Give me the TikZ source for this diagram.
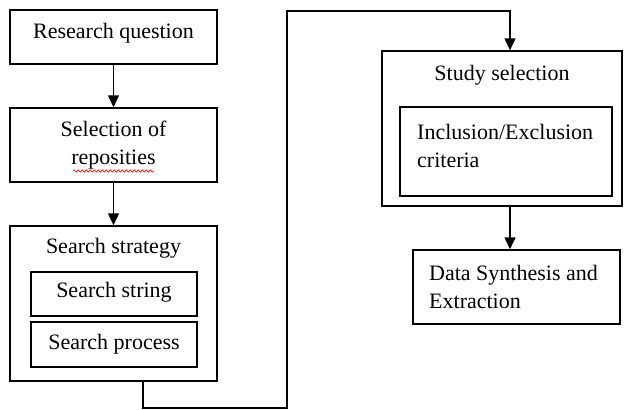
\documentclass[tikz,border=0pt]{standalone}
\usepackage{fontspec}
\setmainfont{Liberation Serif}
\usetikzlibrary{arrows.meta,decorations.pathmorphing}
\begin{document}
\begin{tikzpicture}[x=1pt,y=-1pt,
  box/.style={draw=black,line width=1.5pt,rectangle,inner sep=0pt},
  txt/.style={inner sep=0pt,font=\fontsize{22}{28}\selectfont},
  arr/.style={line width=1.5pt,-{Triangle[width=11pt,length=12pt]}},
  ln/.style={line width=1.5pt}]
\useasboundingbox (0,0) rectangle (625,410);
\fill[white] (0,0) rectangle (625,410);
% left column
\node[box,minimum width=207pt,minimum height=54pt] (rq) at (113.5,37) {};
\node[txt] (rqt) at (113.5,33) {Research question};
\node[box,minimum width=207pt,minimum height=74pt] (sel) at (113.5,145) {};
\node[txt,align=center] (selt) at (113.5,145) {Selection of\\reposities};
\node[box,minimum width=207pt,minimum height=155pt] (ss) at (113.5,303.5) {};
\node[txt] (sst) at (113.5,248) {Search strategy};
\node[box,minimum width=166pt,minimum height=44pt] (sstr) at (114,294) {};
\node[txt] (sstrt) at (114,292) {Search string};
\node[box,minimum width=166pt,minimum height=45pt] (sproc) at (114,344.5) {};
\node[txt] (sproct) at (114,344) {Search process};
% right column
\node[box,minimum width=240pt,minimum height=155pt] (study) at (502,128.5) {};
\node[txt] (studyt) at (502,75) {Study selection};
\node[box,minimum width=212pt,minimum height=89pt] (incl) at (506,151.5) {};
\node[txt,align=left,anchor=west] (inclt) at (417,146) {Inclusion/Exclusion\\criteria};
\node[box,minimum width=207pt,minimum height=74pt] (data) at (516.5,287) {};
\node[txt,align=left,anchor=west] (datat) at (429,287) {Data Synthesis and\\Extraction};
% spelling underline
\coordinate (w1) at (73,171);
\coordinate (w2) at (154,171);
\draw[red,line width=0.6pt,decorate,decoration={snake,amplitude=1.2pt,segment length=4pt}] (w1) -- (w2);
% connectors
\coordinate (a) at (143,408);
\coordinate (b) at (287,11);
\coordinate (c) at (510,11);
\draw[arr] (rq.south) -- (sel.north);
\draw[arr] (sel.south) -- (ss.north);
\draw[arr] (ss.south -| a) -- (a) -| (b) -- (c) -- (study.north -| c);
\draw[arr] (study.south -| c) -- (data.north -| c);
\end{tikzpicture}
\end{document}
